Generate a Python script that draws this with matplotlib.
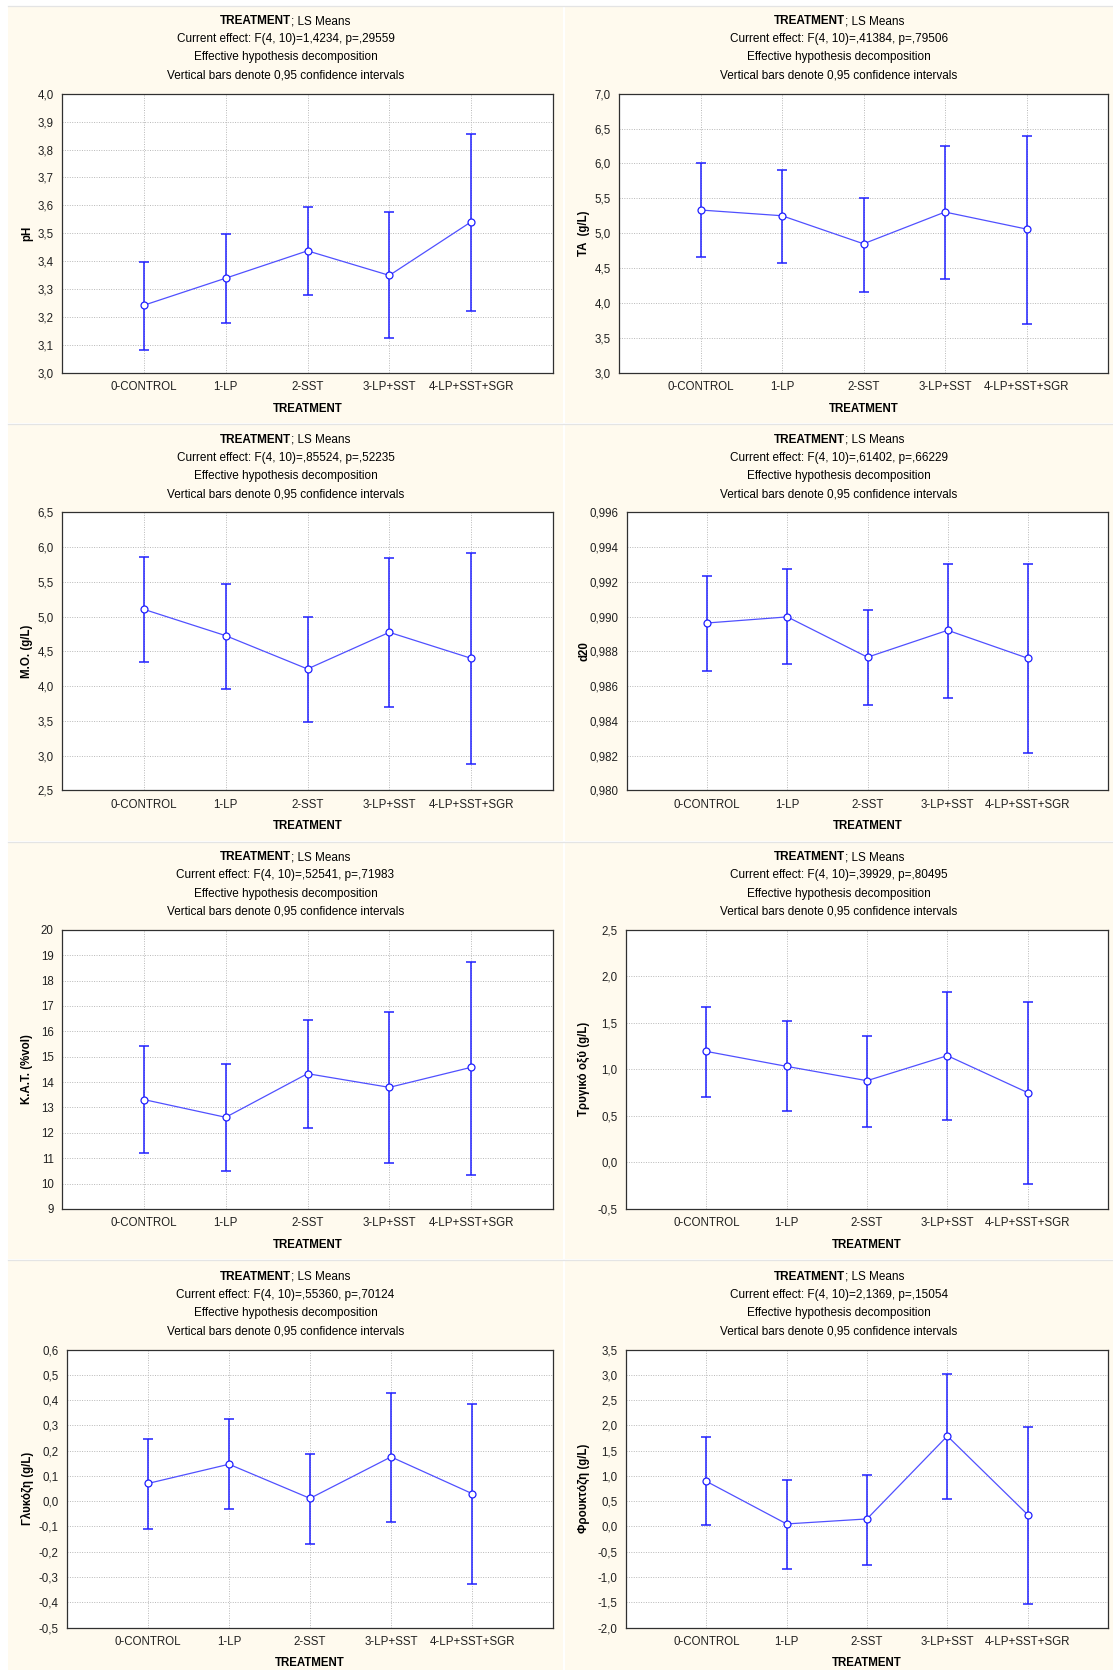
import matplotlib
matplotlib.use("Agg")
import matplotlib.pyplot as plt
from matplotlib.patches import Rectangle
from matplotlib.ticker import FuncFormatter, MultipleLocator

plt.rcParams['font.family'] = ['Liberation Sans', 'DejaVu Sans']

# Dados (LS means e limites do IC 95%)
treatments = ["0-CONTROL", "1-LP", "2-SST", "3-LP+SST", "4-LP+SST+SGR"]

ph_mean = [3.242, 3.339, 3.437, 3.349, 3.541]
ph_low = [3.080, 3.180, 3.279, 3.125, 3.222]
ph_high = [3.397, 3.497, 3.593, 3.575, 3.856]

ta_mean = [5.333, 5.251, 4.849, 5.304, 5.060]
ta_low = [4.653, 4.576, 4.164, 4.346, 3.704]
ta_high = [6.000, 5.913, 5.510, 6.248, 6.396]

mo_mean = [5.104, 4.725, 4.246, 4.773, 4.399]
mo_low = [4.347, 3.963, 3.483, 3.694, 2.884]
mo_high = [5.862, 5.474, 4.999, 5.838, 5.915]

d20_mean = [0.98963, 0.98998, 0.98766, 0.98921, 0.98760]
d20_low = [0.98687, 0.98729, 0.98491, 0.98533, 0.98215]
d20_high = [0.99232, 0.99274, 0.99036, 0.99305, 0.99305]

kat_mean = [13.31, 12.61, 14.33, 13.79, 14.58]
kat_low = [11.19, 10.48, 12.20, 10.80, 10.34]
kat_high = [15.41, 14.71, 16.44, 16.78, 18.75]

tart_mean = [1.193, 1.032, 0.878, 1.147, 0.750]
tart_low = [0.703, 0.549, 0.384, 0.452, -0.231]
tart_high = [1.673, 1.516, 1.355, 1.834, 1.720]

gluc_mean = [0.070, 0.146, 0.011, 0.175, 0.030]
gluc_low = [-0.109, -0.032, -0.169, -0.081, -0.329]
gluc_high = [0.247, 0.325, 0.186, 0.427, 0.385]

fruc_mean = [0.892, 0.049, 0.148, 1.788, 0.233]
fruc_low = [0.022, -0.834, -0.755, 0.536, -1.526]
fruc_high = [1.768, 0.918, 1.011, 3.013, 1.966]

effects = ["F(4, 10)=1,4234, p=,29559", "F(4, 10)=,41384, p=,79506",
           "F(4, 10)=,85524, p=,52235", "F(4, 10)=,61402, p=,66229",
           "F(4, 10)=,52541, p=,71983", "F(4, 10)=,39929, p=,80495",
           "F(4, 10)=,55360, p=,70124", "F(4, 10)=2,1369, p=,15054"]
ylabels = ["pH", "TA  (g/L)", "M.O. (g/L)", "d20", "K.A.T. (%vol)",
           "Τρυγικό οξύ (g/L)", "Γλυκόζη (g/L)", "Φρουκτόζη (g/L)"]

paineis = [
    (ph_mean, ph_low, ph_high, (3.0, 4.0), 0.1, 1),
    (ta_mean, ta_low, ta_high, (3.0, 7.0), 0.5, 1),
    (mo_mean, mo_low, mo_high, (2.5, 6.5), 0.5, 1),
    (d20_mean, d20_low, d20_high, (0.980, 0.996), 0.002, 3),
    (kat_mean, kat_low, kat_high, (9, 20), 1, 0),
    (tart_mean, tart_low, tart_high, (-0.5, 2.5), 0.5, 1),
    (gluc_mean, gluc_low, gluc_high, (-0.5, 0.6), 0.1, 1),
    (fruc_mean, fruc_low, fruc_high, (-2.0, 3.5), 0.5, 1),
]

W, H = 1113, 1670
fig = plt.figure(figsize=(W / 100, H / 100), dpi=100, facecolor="white")

CREME = "#FFFAEE"
AZUL = "#2020FF"
LINHA = "#5050FF"

def fx(px):
    return px / W

def fy(py):
    return 1 - py / H

# fundos dos paineis
row_tops = [7, 425, 843, 1261]
row_bots = [423, 841, 1259, 1670]
cols = [(8, 563), (565, 1113)]
for t, b in zip(row_tops, row_bots):
    for l, r in cols:
        fig.patches.append(Rectangle((fx(l), fy(b)), fx(r - l), (b - t) / H,
                                     transform=fig.transFigure, facecolor=CREME,
                                     edgecolor="none", zorder=-5))
for y in [6, 424, 842, 1260]:
    fig.add_artist(plt.Line2D([fx(8), 1], [fy(y), fy(y)], transform=fig.transFigure,
                              color="#E4E4E4", lw=0.9, zorder=-4))

# posicoes dos eixos (px)
ax_top = [93.7, 512.3, 929.8, 1349.5]
ax_bot = [372.8, 790.3, 1208.9, 1627.5]
ax_left = [62, 619, 62, 627, 62, 626, 67, 626]
ax_right = [553, 1108, 553, 1108, 553, 1108, 553, 1108]
ylab_x = [27, 584]

x = list(range(len(treatments)))
renderer = fig.canvas.get_renderer()

for i, (mean, low, high, ylim, step, dec) in enumerate(paineis):
    row, col = i // 2, i % 2
    l, r, t, b = ax_left[i], ax_right[i], ax_top[row], ax_bot[row]
    ax = fig.add_axes([fx(l), fy(b), fx(r - l), (b - t) / H])
    ax.set_facecolor("white")
    err = [[m - lo for m, lo in zip(mean, low)], [hi - m for m, hi in zip(mean, high)]]
    ax.errorbar(x, mean, yerr=err, fmt="none", ecolor=AZUL, elinewidth=1.1,
                capsize=3.4, capthick=1.1, zorder=3)
    ax.plot(x, mean, color=LINHA, lw=0.9, marker="o", markersize=5,
            markerfacecolor="white", markeredgecolor=AZUL, markeredgewidth=0.9, zorder=4)
    ax.set_xlim(-1, 5)
    ax.set_ylim(*ylim)
    ax.yaxis.set_major_locator(MultipleLocator(step))
    ax.yaxis.set_major_formatter(FuncFormatter(
        lambda v, p, d=dec: f"{v:.{d}f}".replace(".", ",").replace("-0,000", "0,000")))
    ax.set_xticks(x)
    ax.set_xticklabels(treatments)
    ax.tick_params(length=0, labelsize=8.3, pad=6, colors="#202020")
    ax.grid(True, linestyle=(0, (1, 1.5)), color="#B8B8B8", lw=0.7)
    ax.set_axisbelow(True)
    for s in ax.spines.values():
        s.set_color("#303030")
        s.set_linewidth(0.9)

    cx = (l + r) / 2
    fig.text(fx(cx), fy(b + 36), "TREATMENT", ha="center", va="center",
             fontsize=8.3, fontweight="bold")
    fig.text(fx(ylab_x[col]), fy((t + b) / 2), ylabels[i], ha="center",
             va="center", rotation=90, fontsize=8.3, fontweight="bold")

    # titulo centrado no painel
    pcx = sum(cols[col]) / 2
    linhas = ["Current effect: " + effects[i], "Effective hypothesis decomposition",
              "Vertical bars denote 0,95 confidence intervals"]
    for k, txt in enumerate(linhas):
        fig.text(fx(pcx), fy(t - 54.5 + 18.2 * k), txt, ha="center", va="center",
                 fontsize=8.5)
    # primeira linha: parte em negrito + parte normal
    t1 = fig.text(0, fy(t - 72.7), "TREATMENT", ha="left", va="center",
                  fontsize=8.5, fontweight="bold")
    t2 = fig.text(0, fy(t - 72.7), "; LS Means", ha="left", va="center", fontsize=8.5)
    w1 = t1.get_window_extent(renderer).width
    w2 = t2.get_window_extent(renderer).width
    x0 = pcx - (w1 + w2) / 2
    t1.set_x(fx(x0))
    t2.set_x(fx(x0 + w1))

fig.savefig("out.png", dpi=100, facecolor="white")
